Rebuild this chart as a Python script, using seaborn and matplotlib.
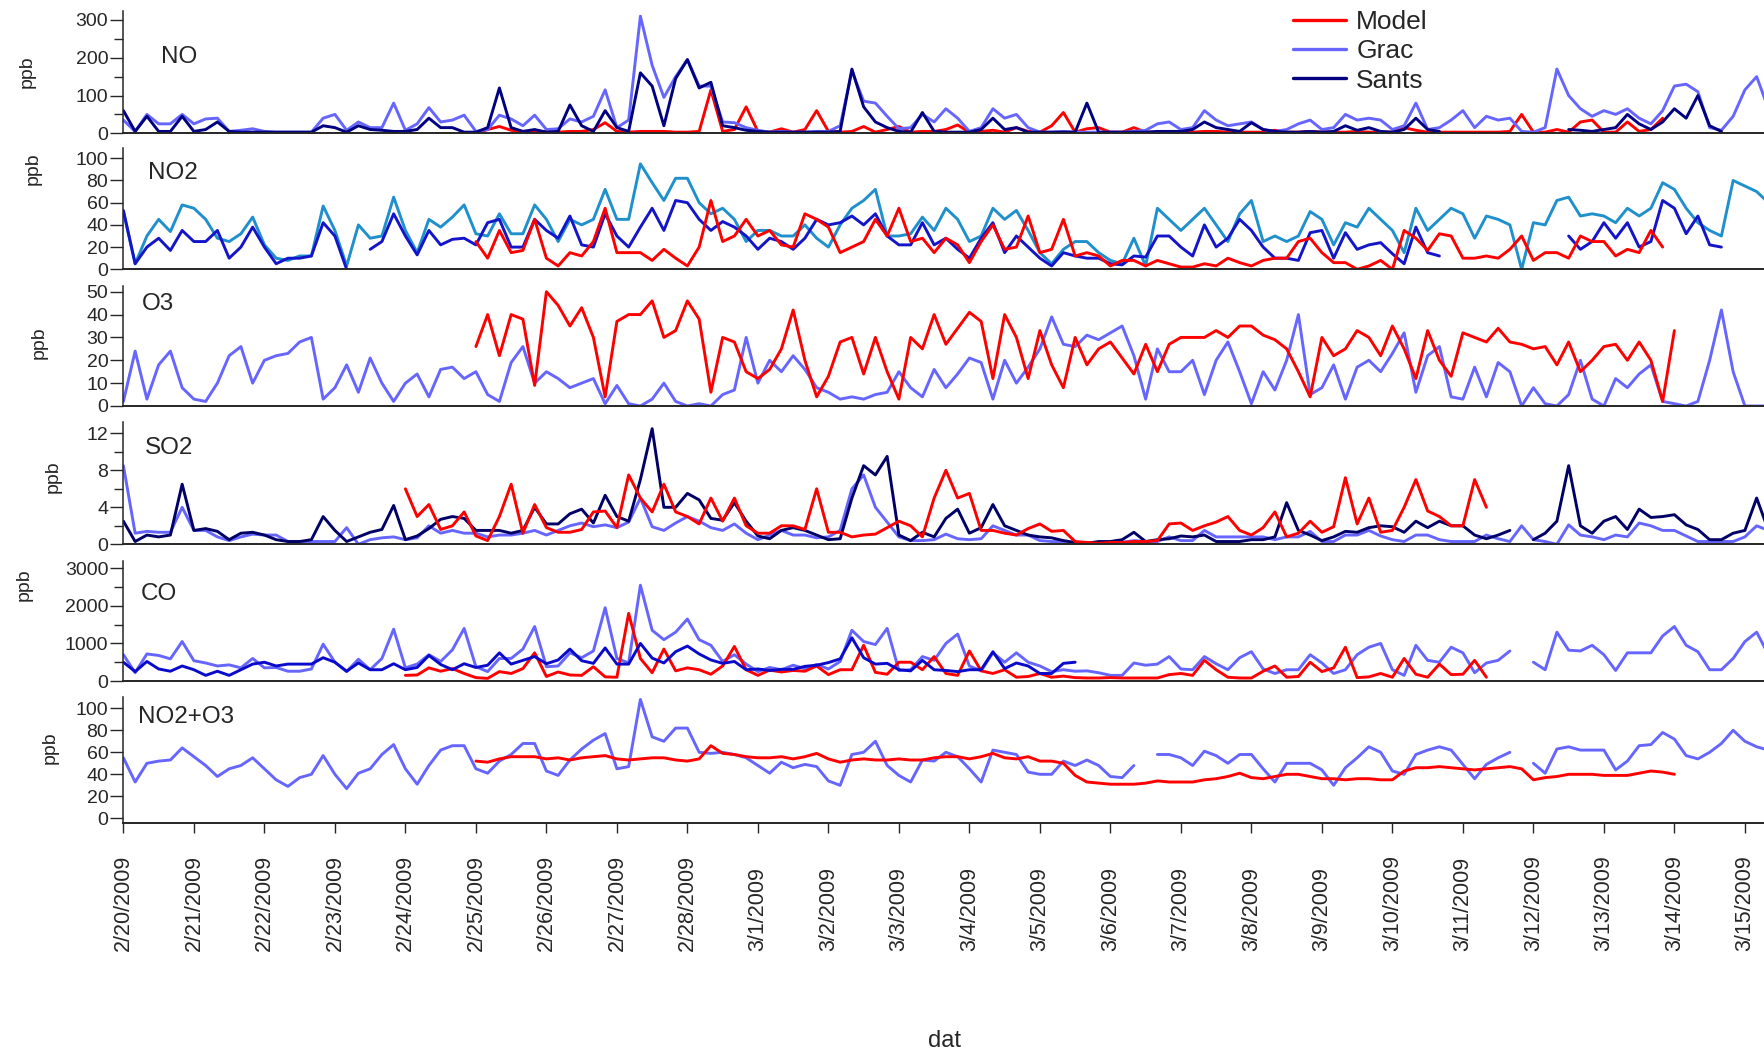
import numpy as np
import pandas as pd
import matplotlib
matplotlib.use("Agg")
import matplotlib.pyplot as plt
from matplotlib.lines import Line2D
import seaborn as sns

na = np.nan

# values, one every 4 hours from 2/20/2009 00:00
start = "2009-02-20 00:00"
model_start = "2009-02-25 00:00"
model_start_so2 = "2009-02-24 00:00"

no_grac = [35, 5, 50, 25, 25, 50, 25, 38, 40, 5, 8, 12,
           5, 3, 3, 3, 3, 40, 50, 8, 30, 15, 15, 80,
           8, 25, 68, 30, 35, 48, 5, 10, 48, 38, 20, 48,
           10, 12, 38, 30, 45, 115, 15, 35, 310, 180, 95, 150,
           195, 125, 125, 30, 28, 15, 8, 3, 5, 3, 3, 5,
           5, 20, 165, 85, 80, 45, 12, 15, 50, 30, 65, 40,
           5, 15, 65, 40, 50, 15, 3, 3, 5, 3, 3, 3,
           3, 3, 5, 8, 25, 30, 10, 15, 60, 35, 20, 25,
           30, 10, 5, 10, 25, 35, 10, 15, 50, 35, 40, 35,
           10, 20, 80, 10, 15, 35, 60, 15, 45, 35, 40, 5,
           3, 15, 170, 100, 65, 45, 60, 50, 65, 40, 25, 60,
           125, 130, 110, 15, 8, 45, 115, 150, 65]
no_sants = [60, 5, 45, 5, 5, 45, 5, 10, 30, 5, 3, 3,
            3, 3, 3, 3, 3, 20, 15, 3, 20, 10, 8, 5,
            5, 10, 40, 15, 15, 3, 3, 15, 120, 15, 5, 10,
            3, 5, 75, 20, 5, 60, 15, 5, 160, 125, 20, 145,
            195, 120, 135, 20, 15, 8, 5, 3, 3, 3, 3, 3,
            3, 5, 170, 70, 30, 15, 5, 3, 55, 5, 3, 3,
            3, 10, 40, 10, 15, 3, 3, 3, 3, 3, 80, 3,
            3, 3, 3, 3, 5, 5, 5, 10, 30, 15, 10, 5,
            28, 10, 5, 3, 3, 5, 3, 5, 20, 8, 15, 5,
            3, 10, 40, 10, 5, na, na, na, na, na, na, na,
            na, na, na, 10, 8, 5, 10, 15, 50, 25, 10, 30,
            65, 40, 100, 20, 5, na, na, na, na]
no_model = [0, 10, 18, 8, 5, 5, 5, 3, 5, 5, 10, 28,
            5, 3, 5, 5, 5, 3, 3, 5, 115, 5, 10, 70,
            5, 3, 12, 3, 10, 60, 5, 3, 5, 18, 3, 10,
            18, 3, 5, 5, 10, 22, 3, 5, 8, 3, 15, 5,
            3, 20, 55, 3, 12, 15, 3, 3, 15, 3, 3, 3,
            3, 3, 5, 5, 3, 3, 3, 3, 8, 3, 3, 5,
            3, 3, 3, 5, 3, 3, 3, 15, 8, 3, 3, 3,
            3, 3, 3, 3, 5, 50, 3, 3, 10, 3, 30, 35,
            3, 3, 30, 5, 10, 40]

no2_grac = [52, 5, 30, 45, 34, 58, 55, 45, 28, 25, 32, 47,
            22, 10, 8, 12, 12, 57, 35, 3, 40, 28, 30, 65,
            35, 15, 45, 38, 47, 58, 32, 30, 50, 32, 32, 58,
            45, 25, 45, 40, 45, 72, 45, 45, 95, 78, 62, 82,
            82, 60, 50, 55, 45, 25, 35, 35, 30, 30, 40, 28,
            20, 40, 55, 62, 72, 30, 30, 32, 47, 35, 55, 45,
            25, 30, 55, 45, 53, 35, 15, 5, 18, 25, 25, 15,
            8, 5, 28, 3, 55, 45, 35, 45, 55, 40, 25, 50,
            62, 25, 30, 25, 30, 52, 45, 22, 42, 38, 55, 45,
            35, 15, 55, 35, 45, 55, 50, 28, 48, 45, 40, 0,
            42, 40, 62, 65, 48, 50, 48, 42, 55, 48, 55, 78,
            72, 55, 42, 35, 30, 80, 75, 70, 60]
no2_sants = [53, 5, 20, 28, 17, 35, 25, 25, 35, 10, 20, 38,
             20, 5, 10, 10, 12, 42, 30, 0, na, 18, 25, 50,
             30, 13, 35, 22, 27, 28, 22, 42, 45, 20, 20, 45,
             35, 28, 48, 22, 20, 50, 30, 20, 38, 55, 35, 62,
             60, 45, 35, 43, 38, 30, 18, 28, 25, 18, 28, 45,
             40, 42, 48, 40, 50, 30, 22, 22, 42, 22, 28, 18,
             10, 28, 42, 15, 30, 20, 10, 3, 15, 12, 10, 10,
             5, 4, 12, 11, 30, 30, 20, 12, 40, 20, 28, 45,
             35, 20, 10, 10, 8, 33, 35, 10, 33, 18, 22, 24,
             14, 5, 38, 15, 12, na, na, na, na, na, na, na,
             na, na, na, 30, 18, 25, 42, 28, 42, 20, 25, 62,
             55, 32, 48, 22, 20, na, na, na, na]
no2_model = [25, 10, 35, 15, 17, 45, 10, 3, 15, 12, 25, 55,
             15, 15, 15, 8, 18, 10, 3, 20, 62, 25, 30, 45,
             30, 35, 22, 20, 50, 45, 38, 15, 20, 25, 45, 30,
             55, 25, 28, 15, 28, 22, 6, 25, 40, 18, 20, 48,
             15, 18, 45, 12, 15, 12, 3, 8, 8, 3, 8, 5,
             2, 2, 5, 3, 10, 6, 3, 8, 10, 10, 25, 28,
             15, 6, 6, 0, 3, 8, 0, 35, 28, 17, 32, 30,
             10, 10, 12, 10, 18, 30, 8, 15, 15, 10, 30, 25,
             25, 12, 18, 15, 35, 20]

o3_grac = [2, 24, 3, 18, 24, 8, 3, 2, 10, 22, 26, 10,
           20, 22, 23, 28, 30, 3, 8, 18, 6, 21, 10, 2,
           10, 14, 4, 16, 17, 12, 15, 5, 2, 19, 26, 10,
           15, 12, 8, 10, 12, 1, 9, 1, 0, 3, 10, 2,
           0, 1, 0, 5, 7, 30, 10, 20, 15, 22, 16, 8,
           6, 3, 4, 3, 5, 6, 15, 8, 4, 16, 8, 14,
           21, 19, 3, 20, 10, 17, 25, 39, 27, 26, 31, 29,
           32, 35, 22, 3, 25, 15, 15, 20, 5, 20, 28, 15,
           1, 15, 7, 20, 40, 5, 8, 18, 3, 17, 20, 15,
           23, 32, 6, 22, 26, 4, 3, 17, 4, 19, 15, 0,
           8, 1, 0, 5, 20, 3, 0, 12, 8, 14, 18, 2,
           1, 0, 2, 20, 42, 15, 0, 0, 0]
o3_model = [26, 40, 22, 40, 38, 9, 50, 44, 35, 43, 30, 4,
            37, 40, 40, 46, 30, 33, 46, 38, 6, 30, 28, 15,
            12, 16, 25, 42, 20, 4, 13, 28, 30, 14, 30, 15,
            3, 30, 25, 40, 27, 34, 41, 37, 12, 40, 30, 12,
            33, 18, 8, 30, 18, 25, 28, 21, 14, 27, 15, 27,
            30, 30, 30, 33, 30, 35, 35, 31, 29, 25, 15, 4,
            30, 22, 25, 33, 30, 22, 35, 25, 12, 33, 20, 13,
            32, 30, 28, 34, 28, 27, 25, 26, 18, 28, 15, 20,
            26, 27, 20, 28, 20, 2, 33]

so2_grac = [8.5, 1.2, 1.4, 1.3, 1.3, 4, 1.5, 1.5, 0.8, 0.4, 0.8, 1.1,
            1, 1, 0.3, 0.3, 0.3, 0.3, 0.3, 1.8, 0, 0.5, 0.7, 0.8,
            0.5, 0.7, 2, 1.2, 1.5, 1.2, 1.2, 0.8, 1, 1, 1.2, 1.5,
            1, 1.5, 2, 2.3, 1.9, 2.1, 1.8, 2.4, 5, 1.9, 1.5, 2.3,
            3, 2.5, 1.8, 1.5, 2.2, 1.2, 0.5, 1, 1.5, 1, 1, 0.7,
            0.8, 1.5, 6, 7.5, 4, 2.4, 0.8, 0.4, 0.4, 0.5, 1.1, 0.6,
            0.5, 0.6, 2, 1.5, 1, 1, 0.4, 0.3, 0.3, 0.1, 0.1, 0.2,
            0.2, 0.2, 0.4, 0.3, 0.3, 0.8, 0.4, 0.4, 1.5, 0.8, 0.8, 0.8,
            0.8, 0.8, 0.5, 0.8, 0.8, 1.4, 0.3, 0.3, 1, 1, 1.5, 0.9,
            0.5, 0.3, 1, 1, 0.5, 0.3, 0.3, 0.3, 1, 0.6, 0.3, 2,
            0.5, 0.3, 0, 2.1, 1, 0.8, 0.5, 1, 0.8, 2.3, 2, 1.5,
            1.5, 0.9, 0.3, 0.3, 0.3, 0.3, 0.8, 2, 1.5]
so2_sants = [2.5, 0.3, 1, 0.8, 1, 6.5, 1.5, 1.7, 1.4, 0.5, 1.2, 1.3,
             1, 0.5, 0.3, 0.3, 0.5, 3, 1.5, 0.3, 0.8, 1.3, 1.6, 4.2,
             0.5, 0.9, 1.7, 2.7, 3.0, 2.8, 1.5, 1.5, 1.5, 1.2, 1.5, 4.0,
             2.2, 2.2, 3.3, 3.8, 2.3, 5.3, 3, 2.5, 7, 12.5, 4, 4,
             5.5, 4.8, 2.8, 2.6, 4.5, 2.5, 0.9, 0.6, 1.5, 1.8, 1.5, 1,
             0.5, 0.6, 5, 8.5, 7.5, 9.5, 1, 0.4, 1.3, 0.8, 2.8, 3.8,
             1.2, 1.8, 4.3, 2, 1.5, 1, 0.8, 0.7, 0.4, 0.2, 0.1, 0.3,
             0.3, 0.5, 1.3, 0.3, 0.5, 0.6, 0.9, 0.8, 1, 0.3, 0.3, 0.3,
             0.5, 0.5, 0.8, 4.5, 1.5, 1, 0.4, 0.8, 1.4, 1.3, 1.8, 2,
             1.9, 1.3, 2.5, 1.8, 2.5, 2, 2, 1, 0.6, 1, 1.5, na,
             0.5, 1.2, 2.5, 8.5, 2, 1.2, 2.5, 3, 1.6, 3.8, 2.9, 3,
             3.2, 2.1, 1.6, 0.5, 0.5, 1.2, 1.5, 5, 1.5]
so2_model = [6, 3, 4.3, 1.6, 2, 3.5, 0.9, 0.4, 3, 6.5, 1.2, 4.3,
             1.8, 1.3, 1.3, 1.6, 3.5, 3.6, 1.8, 7.5, 5, 3.5, 6.5, 3.5,
             3, 2.2, 5, 2.5, 5, 2, 1.2, 1.2, 2, 2, 1.6, 6,
             1.3, 1.3, 0.8, 1, 1.1, 1.8, 2.5, 2, 0.8, 5, 8, 5,
             5.5, 1.5, 1.5, 1.2, 1, 1.7, 2.2, 1.4, 1.5, 0.3, 0.2, 0.1,
             0.2, 0.2, 0.3, 0.3, 0.4, 2.2, 2.3, 1.5, 2, 2.4, 3, 1.5,
             1, 1.8, 3.5, 0.8, 1.2, 2.5, 1.3, 1.9, 7.2, 2.2, 5, 1.3,
             1.5, 4, 7, 3.6, 3, 2, 2, 7, 4]

co_grac = [700, 220, 720, 680, 590, 1050, 540, 480, 400, 430, 350, 600,
           350, 360, 260, 260, 320, 980, 500, 250, 580, 300, 600, 1380,
           350, 450, 700, 520, 830, 1400, 380, 250, 600, 600, 850, 1450,
           380, 400, 750, 620, 800, 1950, 600, 480, 2550, 1350, 1100, 1300,
           1650, 1100, 950, 520, 700, 450, 250, 360, 300, 420, 330, 440,
           320, 520, 1350, 1050, 970, 1400, 280, 300, 650, 550, 1000, 1250,
           400, 270, 750, 500, 750, 500, 400, 250, 300, 260, 270, 220,
           150, 150, 480, 420, 450, 650, 320, 300, 650, 460, 300, 620,
           780, 320, 200, 300, 300, 700, 480, 200, 300, 700, 900, 1000,
           300, 150, 950, 550, 500, 900, 750, 220, 480, 550, 800, na,
           500, 300, 1300, 820, 800, 950, 700, 280, 750, 750, 750, 1200,
           1450, 950, 780, 300, 300, 600, 1050, 1300, 700]
co_sants = [500, 250, 520, 320, 260, 400, 300, 150, 260, 150, 300, 450,
            500, 400, 450, 450, 450, 620, 500, 260, 480, 300, 300, 460,
            300, 360, 680, 440, 300, 460, 360, 420, 750, 450, 550, 650,
            460, 560, 850, 540, 470, 880, 450, 450, 1000, 610, 480, 780,
            930, 720, 560, 470, 520, 300, 320, 280, 310, 310, 390, 420,
            490, 590, 1150, 620, 450, 470, 300, 270, 550, 300, 280, 250,
            300, 300, 780, 330, 480, 400, 200, 200, 470, 500]
co_model = [150, 160, 350, 260, 330, 200, 90, 70, 250, 200, 330, 750,
            120, 240, 160, 150, 380, 110, 100, 1800, 600, 220, 850, 270,
            350, 300, 180, 400, 920, 300, 150, 290, 240, 280, 260, 400,
            170, 300, 300, 950, 230, 180, 500, 500, 300, 650, 200, 150,
            800, 270, 200, 300, 100, 120, 200, 100, 130, 90, 80, 80,
            90, 80, 80, 80, 80, 170, 200, 150, 550, 300, 100, 80,
            80, 260, 400, 100, 120, 500, 250, 350, 900, 90, 110, 200,
            100, 600, 180, 100, 450, 170, 180, 550, 100]

ox_grac = [55, 33, 50, 52, 53, 64, 56, 48, 38, 45, 48, 55,
           45, 35, 29, 37, 40, 57, 40, 27, 41, 45, 58, 67,
           45, 31, 48, 62, 66, 66, 45, 41, 52, 58, 68, 68,
           43, 39, 53, 63, 71, 77, 45, 47, 108, 74, 70, 82,
           82, 60, 59, 60, 58, 55, 48, 41, 51, 46, 49, 47,
           34, 30, 58, 60, 70, 48, 39, 33, 53, 52, 60, 56,
           45, 33, 62, 60, 58, 42, 40, 40, 52, 48, 53, 48,
           38, 37, 48, na, 58, 58, 55, 48, 61, 57, 50, 58,
           58, 45, 33, 50, 50, 50, 44, 30, 46, 55, 65, 60,
           43, 40, 58, 62, 65, 62, 49, 36, 49, 55, 60, na,
           50, 41, 63, 65, 62, 62, 62, 44, 52, 66, 67, 78,
           72, 57, 54, 60, 68, 80, 70, 65, 62]
ox_model = [52, 51, 54, 56, 56, 56, 54, 55, 53, 55, 56, 57,
            54, 53, 54, 55, 55, 53, 52, 54, 66, 59, 58, 56,
            55, 55, 56, 54, 56, 59, 54, 51, 53, 54, 53, 53,
            54, 53, 53, 55, 56, 56, 54, 56, 59, 55, 54, 56,
            52, 52, 50, 39, 33, 32, 31, 31, 31, 32, 34, 33,
            33, 33, 35, 36, 38, 41, 37, 36, 38, 40, 40, 38,
            36, 36, 35, 36, 36, 35, 35, 43, 46, 46, 47, 46,
            45, 44, 45, 46, 47, 45, 35, 37, 38, 40, 40, 40,
            39, 39, 39, 41, 43, 42, 40]

red = "#ff0000"
grac = "#6666ff"
navy = "#000080"

panels = [
    ("NO", (0, 325), [0, 100, 200, 300], [50, 150, 250],
     [(no_model, model_start, red), (no_grac, start, grac), (no_sants, start, navy)]),
    ("NO2", (0, 109), [0, 20, 40, 60, 80, 100], [],
     [(no2_grac, start, "#2090cc"), (no2_sants, start, "#1414c8"), (no2_model, model_start, red)]),
    ("O3", (0, 52.5), [0, 10, 20, 30, 40, 50], [],
     [(o3_grac, start, grac), (o3_model, model_start, red)]),
    ("SO2", (0, 13.2), [0, 4, 8, 12], [2, 6, 10],
     [(so2_grac, start, grac), (so2_sants, start, "#000066"), (so2_model, model_start_so2, red)]),
    ("CO", (0, 3200), [0, 1000, 2000, 3000], [500, 1500, 2500],
     [(co_grac, start, grac), (co_model, model_start_so2, red), (co_sants, start, "#0a0acb")]),
    ("NO2+O3", (-4.5, 110.5), [0, 20, 40, 60, 80, 100], [],
     [(ox_grac, start, grac), (ox_model, model_start, red)]),
]

# panel boxes in pixels (top, bottom), label and title spots
W, H = 1765, 1054
x0 = 123.4
boxes = [(10.5, 133.3), (148.3, 269.3), (286, 406), (422.2, 544.3), (560.8, 681), (696.7, 823.3)]
ylab_px = [(27.6, 72), (33, 169), (39, 343), (53, 477), (24, 585), (50, 748)]
title_px = [(161, 57), (148, 173), (142, 304), (145, 448), (141, 594), (138, 717)]


def frame(values, first):
    t = pd.date_range(first, periods=len(values), freq="4h")
    df = pd.DataFrame({"time": t, "ppb": values})
    df["seg"] = df["ppb"].isna().cumsum()
    return df.dropna()


sns.set_style("ticks")
plt.rcParams["font.family"] = ["Liberation Sans", "DejaVu Sans"]

fig = plt.figure(figsize=(W / 100, H / 100), dpi=100)

t0 = pd.Timestamp("2009-02-20")
days = pd.date_range("2009-02-20", "2009-03-15", freq="D")
xlim = (t0, t0 + pd.Timedelta(days=(W - x0) / 70.5))

axes = []
for i, (name, ylim, major, minor, series) in enumerate(panels):
    top, bot = boxes[i]
    ax = fig.add_axes([x0 / W, 1 - bot / H, 1 - x0 / W, (bot - top) / H])
    for vals, first, col in series:
        sns.lineplot(data=frame(vals, first), x="time", y="ppb", units="seg",
                     estimator=None, color=col, lw=2.1, ax=ax, legend=False)
    ax.set_xlim(*xlim)
    ax.set_ylim(*ylim)
    ax.set_yticks(major)
    ax.set_yticks(minor, minor=True)
    ax.tick_params(axis="y", which="major", length=9.4, width=1.0, pad=1.5, labelsize=14)
    ax.tick_params(axis="y", which="minor", length=6.2, width=1.0)
    for s in ["top", "right"]:
        ax.spines[s].set_visible(False)
    ax.spines["left"].set_linewidth(1.1)
    ax.spines["bottom"].set_linewidth(1.4)
    ax.set_ylabel("ppb", fontsize=14)
    lx, ly = ylab_px[i]
    ax.yaxis.set_label_coords((lx - x0) / (W - x0), (bot - ly) / (bot - top))
    ax.yaxis.label.set_va("center")
    ax.set_xlabel("")
    tx, ty = title_px[i]
    fig.text(tx / W, 1 - ty / H, name, fontsize=17.5, ha="left", va="center")
    ax.patch.set_alpha(0)
    axes.append(ax)

for ax in axes[:-1]:
    ax.tick_params(axis="x", bottom=False, labelbottom=False)

ax = axes[-1]
ax.set_xticks(days)
ax.set_xticklabels([f"{d.month}/{d.day}/{d.year}" for d in days])
ax.tick_params(axis="x", length=7.2, width=1.0, pad=85, labelsize=15.5)
plt.setp(ax.get_xticklabels(), rotation=90, va="bottom", ha="center")
ax.set_xlabel("dat", fontsize=17)
ax.xaxis.set_label_coords(0.5, (823.3 - 1041) / (823.3 - 696.7))
ax.xaxis.label.set_va("center")

handles = [Line2D([], [], color=red, lw=2.4),
           Line2D([], [], color=grac, lw=2.4),
           Line2D([], [], color=navy, lw=2.4)]
fig.legend(handles, ["Model", "Grac", "Sants"], loc="upper left",
           bbox_to_anchor=(1293 / W, 1 - 10 / H), frameon=False, fontsize=19,
           handlelength=2.0, handletextpad=0.4, labelspacing=0.2,
           borderpad=0, borderaxespad=0)

fig.savefig("out.png", dpi=100)
